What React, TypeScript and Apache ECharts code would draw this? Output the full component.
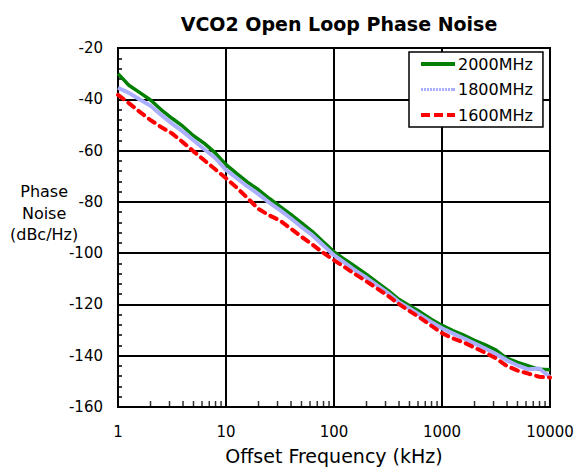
import React, { useEffect, useRef } from "react";
import * as echarts from "echarts";

const TITLE = "VCO2 Open Loop Phase Noise";
const X_NAME = "Offset Frequency (kHz)";
const Y_NAME = "Phase\nNoise\n(dBc/Hz)";
const SERIES_NAMES = ["2000MHz", "1800MHz", "1600MHz"];

const FREQ = [
  1, 1.26, 1.58, 2, 2.5, 3.16, 4, 5, 6.3, 7.9,
  10, 12.6, 15.8, 20, 25, 31.6, 40, 50, 63, 79,
  100, 126, 158, 200, 251, 316, 398, 501, 631, 794,
  1000, 1259, 1585, 1995, 2512, 3162, 3981, 5012, 6310, 7943, 10000,
];

const PN_2000 = [
  -30.0, -34.5, -37.3, -40.3, -44.0, -47.4, -50.6, -54.2, -57.2, -60.8,
  -65.5, -69.0, -72.3, -75.3, -78.6, -81.8, -85.0, -88.2, -91.6, -95.5,
  -99.5, -102.5, -105.3, -108.3, -111.4, -114.5, -118.0, -120.5, -123.0, -125.8,
  -128.2, -130.2, -132.0, -134.0, -135.8, -137.8, -141.0, -142.6, -144.0, -145.3, -145.5,
];

const PN_1800 = [
  -35.5, -37.5, -40.0, -42.5, -46.0, -49.5, -52.6, -56.0, -59.5, -62.8,
  -67.5, -70.8, -74.0, -77.0, -80.2, -83.2, -86.5, -89.8, -93.0, -96.8,
  -100.8, -103.8, -106.8, -109.6, -112.6, -115.6, -119.0, -121.6, -124.2, -126.8,
  -129.3, -131.3, -133.2, -135.2, -137.2, -139.3, -141.8, -143.8, -145.3, -145.0, -148.3,
];

const PN_1600 = [
  -38.3, -41.5, -44.8, -48.1, -50.8, -53.3, -56.8, -60.3, -63.8, -67.2,
  -70.8, -74.5, -78.5, -82.8, -85.2, -87.3, -90.5, -93.6, -96.6, -99.8,
  -102.8, -105.5, -108.3, -111.0, -113.8, -116.6, -119.8, -122.6, -125.3, -128.3,
  -131.2, -133.2, -134.8, -136.8, -138.8, -141.0, -144.0, -145.8, -147.0, -148.2, -148.5,
];

const X_MIN = 1;
const X_MAX = 10000;
const Y_MIN = -160;
const Y_MAX = -20;
const Y_STEP = 20;

const FONT = "DejaVu Sans";

// legend sample icons (line styles drawn as paths)
const ICON_SOLID = "path://M0,0H34V4H0Z";
const ICON_DASH = "path://M0,0h9v4h-9zM13,0h9v4h-9zM26,0h8v4h-8z";
const ICON_DOT = (() => {
  let d = "path://";
  for (let x = 0; x <= 30; x += 3) d += `M${x},0.5h2v3h-2z`;
  d += "M32,0.5h2v3h-2zM0,0h0.01v4h-0.01z";
  return d;
})();

export default function App() {
  const ref = useRef<HTMLDivElement>(null);

  useEffect(() => {
    if (!ref.current) return;
    const chart = echarts.init(ref.current, undefined, { renderer: "svg" });

    const pair = (vals: number[]) => FREQ.map((f, i) => [f, vals[i]]);

    // log-spaced minor tick positions (2..9 per decade)
    const minorX: number[][] = [];
    for (let d = X_MIN; d < X_MAX; d *= 10) {
      for (let m = 2; m <= 9; m++) minorX.push([d * m, Y_MIN]);
    }

    chart.setOption({
      animation: false,
      backgroundColor: "#ffffff",
      title: {
        text: TITLE,
        left: 334,
        top: 9,
        textAlign: "center",
        textStyle: { fontFamily: FONT, fontWeight: "bold", fontSize: 19, color: "#000" },
      },
      legend: {
        left: 409,
        top: 52,
        orient: "vertical",
        backgroundColor: "#ffffff",
        borderColor: "#000",
        borderWidth: 1.5,
        borderRadius: 0,
        padding: [4, 10, 4, 12],
        itemGap: 9.5,
        itemWidth: 34,
        itemHeight: 4,
        textStyle: { fontFamily: FONT, fontSize: 16, color: "#000", padding: [0, 0, 0, -2] },
        data: [
          { name: SERIES_NAMES[0], icon: ICON_SOLID },
          { name: SERIES_NAMES[1], icon: ICON_DOT },
          { name: SERIES_NAMES[2], icon: ICON_DASH },
        ],
      },
      grid: {
        left: 118,
        top: 48,
        right: 27,
        bottom: 67,
        show: true,
        borderColor: "#000",
        borderWidth: 2,
        backgroundColor: "transparent",
      },
      xAxis: {
        type: "log",
        logBase: 10,
        min: X_MIN,
        max: X_MAX,
        name: X_NAME,
        nameLocation: "middle",
        nameGap: 39,
        nameTextStyle: { fontFamily: FONT, fontSize: 19, color: "#000" },
        axisLine: { show: true, lineStyle: { color: "#000", width: 2 } },
        axisTick: { show: true, inside: true, length: 6, lineStyle: { color: "#000", width: 1.5 } },
        axisLabel: {
          fontFamily: FONT,
          fontSize: 15,
          color: "#000",
          margin: 17,
          formatter: (v: number) => String(Math.round(v)),
        },
        splitLine: { show: true, lineStyle: { color: "#000", width: 2 } },
      },
      yAxis: {
        type: "value",
        min: Y_MIN,
        max: Y_MAX,
        interval: Y_STEP,
        axisLine: { show: true, lineStyle: { color: "#000", width: 2 } },
        axisTick: { show: true, inside: true, length: 6, lineStyle: { color: "#000", width: 1.5 } },
        minorTick: { show: true, splitNumber: 5, length: 4, lineStyle: { color: "#000", width: 1.5 } },
        axisLabel: { fontFamily: FONT, fontSize: 15, color: "#000", margin: 15 },
        splitLine: { show: true, lineStyle: { color: "#000", width: 2 } },
      },
      graphic: [
        {
          type: "text",
          left: 10,
          top: 181,
          style: {
            text: Y_NAME,
            font: `16px '${FONT}'`,
            fill: "#000",
            textAlign: "center",
            lineHeight: 21.5,
            x: 35,
          },
        },
      ],
      series: [
        {
          name: "minor",
          type: "scatter",
          data: minorX,
          symbol: "rect",
          symbolSize: [1.5, 6],
          symbolOffset: [0, -3],
          itemStyle: { color: "#000" },
          silent: true,
          clip: false,
          z: 3,
        },
        {
          name: SERIES_NAMES[0],
          type: "line",
          data: pair(PN_2000),
          showSymbol: false,
          symbol: "none",
          lineStyle: { color: "#008000", width: 3.5 },
          itemStyle: { color: "#008000" },
          z: 4,
        },
        {
          name: SERIES_NAMES[1],
          type: "line",
          data: pair(PN_1800),
          showSymbol: false,
          symbol: "none",
          lineStyle: { color: "#aab0ff", width: 4 },
          itemStyle: { color: "#aab0ff" },
          z: 5,
        },
        {
          name: SERIES_NAMES[2],
          type: "line",
          data: pair(PN_1600),
          showSymbol: false,
          symbol: "none",
          lineStyle: { color: "#ff0000", width: 4, type: [7, 6], cap: "round" },
          itemStyle: { color: "#ff0000" },
          z: 6,
        },
      ],
    });

    return () => chart.dispose();
  }, []);

  return (
    <div
      ref={ref}
      style={{ position: "fixed", left: 0, top: 0, width: 577, height: 474, background: "#fff" }}
    />
  );
}
